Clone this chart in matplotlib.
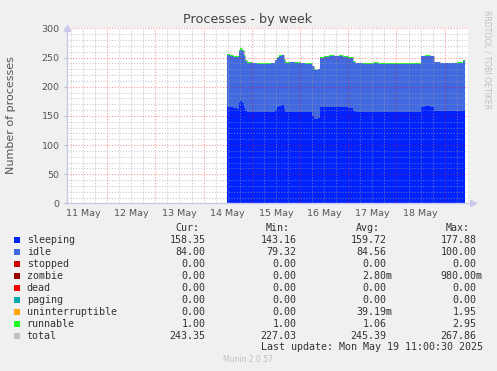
"""Munin processes - by week, redrawn with matplotlib"""
import numpy as np, matplotlib
matplotlib.use('Agg')
import matplotlib.pyplot as plt
from matplotlib.patches import Rectangle

# time in days since 11 May 00:00
t = [3.48, 3.55, 3.62, 3.69, 3.73, 3.76, 3.79, 3.83, 3.86, 3.90, 4.00, 4.10, 4.20, 4.30,
     4.40, 4.48, 4.52, 4.56, 4.62, 4.66, 4.69, 4.80, 4.90, 5.00, 5.10, 5.20, 5.25, 5.28,
     5.33, 5.38, 5.42, 5.50, 5.60, 5.70, 5.80, 5.90, 6.00, 6.09, 6.13, 6.30, 6.45, 6.54,
     6.61, 6.80, 7.00, 7.20, 7.40, 7.51, 7.60, 7.70, 7.78, 7.90, 8.10, 8.25, 8.37, 8.42]
sleeping = [166, 165, 164, 162, 172, 176, 172, 164, 158, 157, 157, 156, 157, 156,
            157, 160, 165, 167, 168, 162, 157, 157, 157, 156, 156, 156, 150, 145,
            144, 146, 165, 165, 166, 165, 165, 165, 164, 158, 156, 156, 156, 157,
            156, 156, 156, 156, 156, 166, 167, 166, 158, 158, 158, 158, 158, 158]
idle = [89, 88, 87, 89, 89, 87, 89, 89, 86, 84, 83, 83, 82, 83,
        83, 85, 85, 85, 86, 84, 84, 85, 84, 84, 83, 83, 85, 84,
        84, 84, 85, 86, 87, 87, 88, 86, 86, 85, 84, 83, 83, 84,
        83, 83, 83, 83, 83, 86, 85, 86, 84, 82, 82, 83, 86, 86]
runnable = [1, 1, 1, 1, 1, 3, 1, 1, 1, 1, 1, 1, 1, 1,
            1, 1, 1, 2, 1, 1, 1, 1, 1, 1, 1, 1, 1, 1,
            1, 1, 1, 2, 1, 1, 1, 1, 1, 1, 1, 1, 1, 1,
            1, 1, 1, 1, 1, 1, 2, 1, 1, 1, 1, 1, 1, 1]
zeros = [0] * len(t)

day_labels = ['11 May', '12 May', '13 May', '14 May', '15 May', '16 May', '17 May', '18 May']

names = ['sleeping', 'idle', 'stopped', 'zombie', 'dead', 'paging', 'uninterruptible', 'runnable', 'total']
colors = ['#0022ff', '#4169e1', '#cc0000', '#990000', '#ff0000', '#00aaaa', '#ffa500', '#22ff22', '#c0c0c0']
cur = ['158.35', '84.00', '0.00', '0.00', '0.00', '0.00', '0.00', '1.00', '243.35']
mins = ['143.16', '79.32', '0.00', '0.00', '0.00', '0.00', '0.00', '1.00', '227.03']
avgs = ['159.72', '84.56', '0.00', '2.80m', '0.00', '0.00', '39.19m', '1.06', '245.39']
maxs = ['177.88', '100.00', '0.00', '980.00m', '0.00', '0.00', '1.95', '2.95', '267.86']

W, H = 497, 371
fig = plt.figure(figsize=(W / 100, H / 100), dpi=100, facecolor='#f0f0f0')
ax = fig.add_axes([66.5 / W, 1 - 203.5 / H, (468 - 66.5) / W, (203.5 - 28.3) / H])
ax.set_facecolor('white')

# total line first, the stack goes over it so the green edge shows
series = [sleeping, idle, zeros, zeros, zeros, zeros, zeros, runnable]
total = np.sum(np.array(series, float), axis=0)
ax.step(t, total, where='post', color='#c0c0c0', lw=0.8, zorder=1.9)
base = np.zeros(len(t))
for vals, c in zip(series, colors[:8]):
    top = base + np.array(vals, float)
    ax.fill_between(t, base, top, step='post', color=c, lw=0, zorder=2)
    base = top

x0, x1 = 0.158, 8.483
ax.set_xlim(x0, x1)
ax.set_ylim(0, 300)

# grid on top of the data, like rrdtool
for d in np.arange(0.25, 8.5, 0.25):
    major = abs(d - round(d)) < 1e-6
    ax.axvline(d, color='#ff0000' if major else '#a0a0a0', alpha=0.4 if major else 0.55,
               lw=0.8, ls=(0, (1, 1.5)), zorder=3)
for v in range(10, 301, 10):
    major = v % 50 == 0
    ax.axhline(v, color='#ff0000' if major else '#a0a0a0', alpha=0.4 if major else 0.55,
               lw=0.8, ls=(0, (1, 1.5)), zorder=3)

ax.set_xticks(np.arange(len(day_labels)) + 0.5, day_labels)
ax.set_yticks(range(0, 301, 50))
ax.tick_params(axis='x', length=0, pad=4, labelsize=6.8, labelcolor='#555555')
ax.tick_params(axis='y', length=2, color='#c0c0c0', pad=3, labelsize=6.8, labelcolor='#555555')
for s in ['top', 'right']:
    ax.spines[s].set_visible(False)
for s in ['left', 'bottom']:
    ax.spines[s].set_color('#c8c8ee')
    ax.spines[s].set_linewidth(1)
    ax.spines[s].set_zorder(4)
ax.plot([x0], [300], marker='^', ms=4, color='#c8c8ee', clip_on=False, zorder=5)
ax.plot([x1 + 0.1], [0], marker='>', ms=4, color='#c8c8ee', clip_on=False, zorder=5)

def px(x, y):
    return x / W, 1 - y / H

fig.text(*px(248, 19), 'Processes - by week', ha='center', va='center', fontsize=9.2, color='#444444')
fig.text(*px(11, 115), 'Number of processes', ha='center', va='center', rotation=90,
         fontsize=8, color='#555555')
fig.text(*px(487, 10), 'RRDTOOL / TOBI OETIKER', ha='center', va='top', rotation=270,
         fontsize=5.6, color='#c0c0c0')

mono = dict(family='DejaVu Sans Mono', fontsize=7.2, color='#333333', va='center')
col_edges = [211.3, 302.3, 392.7, 482.7]
headers = ['Cur:', 'Min:', 'Avg:', 'Max:']
head_edges = [199, 290, 380, 470]
for h, e in zip(headers, head_edges):
    fig.text(*px(e, 227.7), h, ha='right', **mono)
for i, name in enumerate(names):
    y = 239.7 + 12 * i
    fig.add_artist(Rectangle(px(14, y + 3), 6 / W, 6 / H, transform=fig.transFigure,
                             color=colors[i], lw=0))
    fig.text(*px(26.7, y), name, ha='left', **mono)
    for col, e in zip([cur, mins, avgs, maxs], col_edges):
        s = col[i]
        edge = e if s.endswith('m') else e - 6
        fig.text(*px(edge, y), s, ha='right', **mono)
fig.text(*px(482.7, 347.3), 'Last update: Mon May 19 11:00:30 2025', ha='right', **mono)
fig.text(*px(248, 359.7), 'Munin 2.0.57', ha='center', va='center', fontsize=5.5, color='#c0c0c0')

fig.savefig('out.png', dpi=100, facecolor=fig.get_facecolor())
